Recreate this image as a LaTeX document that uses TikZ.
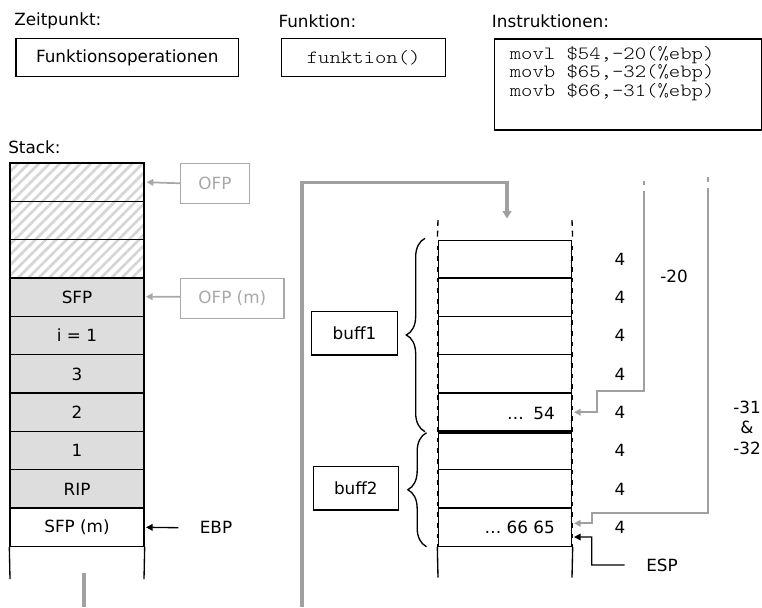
\documentclass[tikz,border=0pt]{standalone}
\usepackage{fontspec}
\setmainfont{DejaVu Sans}
\newfontfamily\monofont{lmmonolt10-regular.otf}[FakeStretch=1.16]
\usetikzlibrary{arrows.meta,patterns.meta,decorations.pathreplacing}
\definecolor{conngray}{HTML}{A0A0A0}
\definecolor{ofpgray}{HTML}{A8A8A8}
\definecolor{cellgray}{HTML}{DDDDDD}
\definecolor{hatchgray}{HTML}{D6D6D6}
\tikzset{
  txt/.style={font=\fontsize{12.6}{15}\selectfont, inner sep=0pt},
  monotxt/.style={font=\monofont\fontsize{14}{15}\selectfont, inner sep=0pt},
  cell/.style={draw, line width=1pt, minimum width=100.5pt, minimum height=28.76pt, inner sep=0pt, font=\fontsize{12.6}{15}\selectfont},
  graycell/.style={cell, fill=cellgray},
  hatchcell/.style={cell, pattern={Lines[angle=45,distance=5.5pt,line width=2pt]}, pattern color=hatchgray},
  box/.style={draw, line width=1pt, inner sep=0pt, font=\fontsize{12.6}{15}\selectfont},
  ofpbox/.style={draw=ofpgray, line width=1pt, inner sep=0pt, text=ofpgray, font=\fontsize{12.6}{15}\selectfont},
  ofparrow/.style={draw=ofpgray, line width=1.3pt, -{Triangle[length=5pt,width=5pt]}},
  thinconn/.style={draw=conngray, line width=1.4pt, -{Triangle[length=5pt,width=5pt]}},
  blackarrow/.style={draw=black, line width=1pt, -{Triangle[length=5pt,width=5pt]}},
  thickconn/.style={draw=conngray, line width=2.5pt},
  bracestyle/.style={draw, line width=1pt, decorate, decoration={brace, amplitude=14pt}},
}
\begin{document}
\begin{tikzpicture}[x=0.75pt,y=-0.75pt]
\useasboundingbox[fill=white] (0,0) rectangle (762,607);

% headings
\node[txt, anchor=west] (hzeit) at (14,21) {Zeitpunkt:};
\node[txt, anchor=west] (hfunk) at (278.3,21) {Funktion:};
\node[txt, anchor=west] (hinstr) at (491.7,21) {Instruktionen:};
\node[txt, anchor=west] (hstack) at (8,147) {Stack:};

% top boxes
\node[box, minimum width=166.7pt, minimum height=28.8pt] (zeit) at (127.2,57.5) {Funktionsoperationen};
\node[box, minimum width=123pt, minimum height=28.8pt, monotxt] (funk) at (363.7,57.5) {funktion()};
\node[box, minimum width=199.9pt, minimum height=68.25pt, anchor=north west] (instr) at (494,38.3) {};
\node[monotxt, anchor=base west] (i1) at (509.5,59) {movl \$54,-20(\%ebp)};
\node[monotxt, anchor=base west] (i2) at (509.5,77.5) {movb \$65,-32(\%ebp)};
\node[monotxt, anchor=base west] (i3) at (509.5,96) {movb \$66,-31(\%ebp)};

% left stack
\node[hatchcell] (s1) at (77,182.2) {};
\node[hatchcell] (s2) at (77,220.5) {};
\node[hatchcell] (s3) at (77,258.9) {};
\node[graycell] (s4) at (77,297.2) {SFP};
\node[graycell] (s5) at (77,335.6) {i = 1};
\node[graycell] (s6) at (77,373.9) {3};
\node[graycell] (s7) at (77,412.2) {2};
\node[graycell] (s8) at (77,450.6) {1};
\node[graycell] (s9) at (77,488.9) {RIP};
\node[cell] (s10) at (77,527.3) {SFP (m)};
\coordinate (sbl) at (10,579);
\coordinate (sbr) at (144,579);
\draw[line width=1pt] (s10.south west) -- (sbl);
\draw[line width=1pt] (s10.south east) -- (sbr);

% OFP boxes
\node[ofpbox, minimum width=51.5pt, minimum height=30pt] (ofp) at (215,183.3) {OFP};
\node[ofpbox, minimum width=77.5pt, minimum height=30pt] (ofpm) at (232.3,298.3) {OFP (m)};
\draw[ofparrow] (ofp.west) -- ([xshift=1pt]s1.east);
\draw[ofparrow] (ofpm.west |- 0,296.7) -- ([xshift=1pt,yshift=0.4pt]s4.east);

% EBP
\node[txt] (ebp) at (216,527.7) {EBP};
\draw[blackarrow] ([xshift=-16pt]ebp.west) -- ([xshift=1pt]s10.east);

% thick gray connectors
\coordinate (gstub1) at (84,573);
\coordinate (gstub2) at (84,607);
\draw[thickconn] (gstub1) -- (gstub2);
\coordinate (gstart) at (302,607);
\coordinate (mtop) at (507,218.5);
\draw[thickconn, -{Triangle[length=5.5pt,width=6.5pt]}] (gstart) -- (302,182.7) -| (mtop);

% middle column
\node[cell] (m1) at (505,259.5) {};
\node[cell] (m2) at (505,297.2) {};
\node[cell] (m3) at (505,335.6) {};
\node[cell] (m4) at (505,373.9) {};
\node[cell] (m5) at (505,412.2) {};
\node[cell] (m6) at (505,450.6) {};
\node[cell] (m7) at (505,488.9) {};
\node[cell] (m8) at (505,527.3) {};
\draw[line width=3pt] (m5.south west) -- (m5.south east);
\coordinate (mtl) at (438,220);
\coordinate (mtr) at (572,220);
\coordinate (mbl) at (438,577.5);
\coordinate (mbr) at (572,577.5);
\draw[line width=1pt, dash pattern=on 4.5pt off 3.5pt] (mtl) -- (m1.north west);
\draw[line width=1pt, dash pattern=on 4.5pt off 3.5pt] (mtr) -- (m1.north east);
\draw[line width=1pt] (m8.south west) -- (mbl);
\draw[line width=1pt] (m8.south east) -- (mbr);
\draw[line width=0.6pt, dash pattern=on 4.5pt off 3.5pt, white] (m1.north west) -- (m8.south west);
\draw[line width=0.6pt, dash pattern=on 4.5pt off 3.5pt, white] (m1.north east) -- (m8.south east);

\node[txt, anchor=east] (v54) at (555,413) {…\hspace{7pt}54};
\node[txt, anchor=east] (v6665) at (555,527.3) {… 66 65};

% size labels
\foreach \i/\y in {1/259.5,2/297.2,3/335.6,4/373.9,5/412.2,6/450.6,7/488.9,8/527.3}
  \node[txt] (sz\i) at (620,\y) {4};

% braces and buffer boxes
\draw[bracestyle] (425,431.7) -- (425,238.3);
\draw[bracestyle] (426.5,546.7) -- (426.5,432.7);
\node[box, minimum width=64.2pt, minimum height=32.5pt] (buff1) at (354.5,333.3) {buff1};
\node[box, minimum width=63.8pt, minimum height=32.5pt] (buff2) at (355.8,488.3) {buff2};

% offsets
\node[txt] (off20) at (674,276) {-20};
\node[txt, align=center, font=\fontsize{12.6}{15.4}\selectfont] (off31) at (747,427.5) {-31\\\&\\-32};

\coordinate (t20a) at (644,180.7);
\coordinate (t20b) at (644,185);
\coordinate (l20) at (644,190.7);
\draw[draw=conngray, line width=1.4pt] (t20a) -- (t20b);
\draw[thinconn] (l20) -- (644,390.7) -- (597,390.7) -- (597,412.2) -- ([xshift=1pt]m5.east);

\coordinate (t31a) at (708,177.3);
\coordinate (t31b) at (708,182);
\coordinate (l31) at (708,188.3);
\draw[draw=conngray, line width=1.4pt] (t31a) -- (t31b);
\draw[thinconn] (l31) -- (708,513.3) -- (592.3,513.3) -- (592.3,523.3) -- ([xshift=1pt,yshift=3pt]m8.east);

% ESP
\node[txt] (esp) at (662,565) {ESP};
\draw[blackarrow] ([xshift=-16pt]esp.west) -- (591.7,565) -- (591.7,537) -- ([xshift=1pt,yshift=-7.3pt]m8.east);
\end{tikzpicture}
\end{document}
